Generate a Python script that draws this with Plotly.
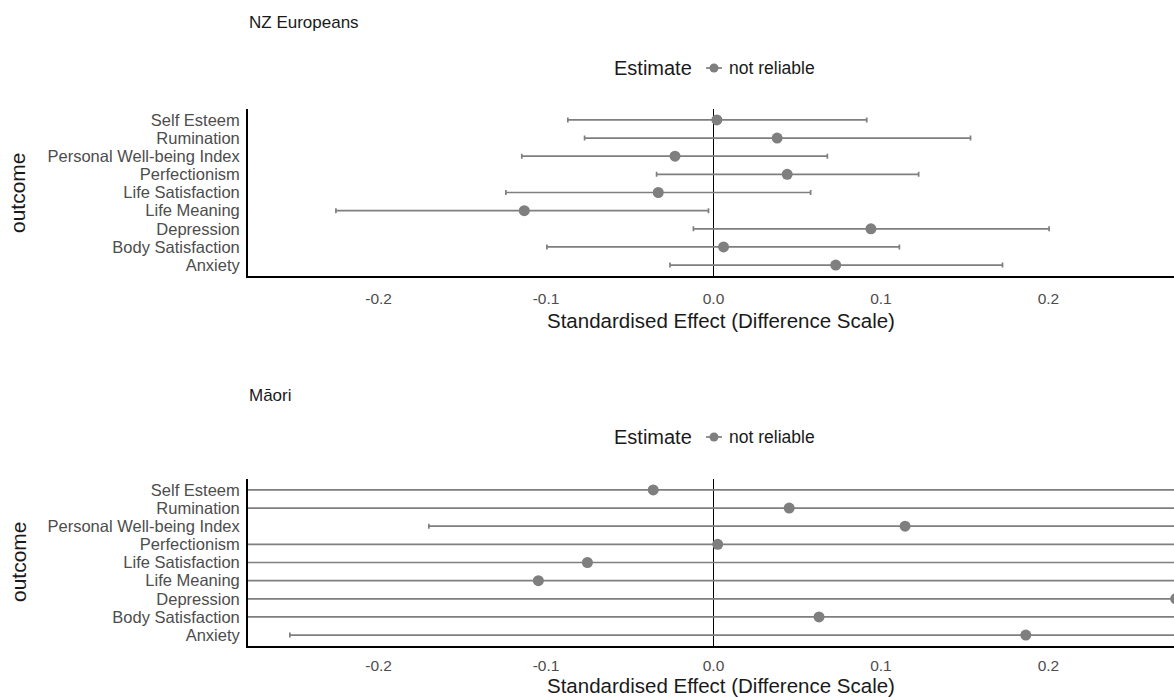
import plotly.graph_objects as go

outcomes = ["Anxiety", "Body Satisfaction", "Depression", "Life Meaning", "Life Satisfaction",
            "Perfectionism", "Personal Well-being Index", "Rumination", "Self Esteem"]

# NZ Europeans
nz_est   = [0.073, 0.006, 0.094, -0.113, -0.033, 0.044, -0.023, 0.038, 0.002]
nz_lower = [-0.026, -0.0995, -0.012, -0.2255, -0.124, -0.034, -0.1145, -0.077, -0.087]
nz_upper = [0.1726, 0.111, 0.2004, -0.003, 0.058, 0.1225, 0.068, 0.1535, 0.0915]

# Māori
mi_est   = [0.1865, 0.063, 0.276, -0.1046, -0.0753, 0.0025, 0.1144, 0.0452, -0.036]
mi_lower = [-0.253, -0.33, -0.36, -0.38, -0.34, -0.32, -0.170, -0.31, -0.35]
mi_upper = [0.45, 0.42, 0.62, 0.30, 0.31, 0.33, 0.41, 0.36, 0.29]

panel_titles = ["NZ Europeans", "Māori"]
x_ticks = [-0.2, -0.1, 0.0, 0.1, 0.2]
x_tick_labels = ["-0.2", "-0.1", "0.0", "0.1", "0.2"]
x_title = "Standardised Effect (Difference Scale)"
y_title = "outcome"
legend_title = "Estimate"
legend_item = "not reliable"

FONT = "Liberation Sans, Arial, Helvetica, sans-serif"
GREY = "#7f7f7f"
W, H = 1174, 697

def px(p):
    return p / W

def py(p):
    return 1 - p / H

fig = go.Figure()
for i, (est, lo, up) in enumerate([(nz_est, nz_lower, nz_upper), (mi_est, mi_lower, mi_upper)]):
    sfx = "" if i == 0 else str(i + 1)
    fig.add_trace(go.Scatter(
        x=est, y=outcomes, mode="markers",
        marker=dict(color=GREY, size=11),
        error_x=dict(type="data", symmetric=False,
                     array=[u - e for u, e in zip(up, est)],
                     arrayminus=[e - l for e, l in zip(est, lo)],
                     color=GREY, thickness=1.7, width=2.5),
        name=legend_item, showlegend=False,
        xaxis="x" + sfx, yaxis="y" + sfx,
    ))

x_left, x_right = 248, 1174
top_dom = [py(276), py(109)]
bot_dom = [py(646), py(479)]

xaxis_common = dict(
    range=[-0.278, 0.275], tickmode="array", tickvals=x_ticks, ticktext=x_tick_labels,
    showgrid=False, zeroline=True, zerolinecolor="black", zerolinewidth=1,
    showline=True, linecolor="black", linewidth=1.8,
    ticks="",
    tickfont=dict(family=FONT, size=15.5, color="#4d4d4d"),
    domain=[px(x_left), px(x_right)], automargin=False,
)
yaxis_common = dict(
    categoryorder="array", categoryarray=outcomes, range=[-0.6, 8.6],
    tickmode="array", tickvals=outcomes, ticktext=outcomes,
    showgrid=False, zeroline=False, showline=True, linecolor="black", linewidth=1.8,
    ticks="", ticklabelstandoff=3,
    tickfont=dict(family=FONT, size=16.5, color="#4d4d4d"), automargin=False,
)

fig.update_layout(
    width=W, height=H,
    margin=dict(l=0, r=0, t=0, b=0),
    paper_bgcolor="white", plot_bgcolor="white",
    font=dict(family=FONT),
    xaxis=dict(**xaxis_common, anchor="y", ticklabelstandoff=7),
    yaxis=dict(**yaxis_common, domain=top_dom, anchor="x"),
    xaxis2=dict(**xaxis_common, anchor="y2", ticklabelstandoff=4),
    yaxis2=dict(**yaxis_common, domain=bot_dom, anchor="x2"),
    showlegend=False,
)

annotations = []
shapes = []
for title, ty, ly, xty, yc in [(panel_titles[0], 22, 68, 320, 193),
                               (panel_titles[1], 395, 437, 685, 562)]:
    annotations.append(dict(text=title, x=px(247), y=py(ty), xref="paper", yref="paper",
                            xanchor="left", yanchor="middle", showarrow=False,
                            font=dict(family=FONT, size=17, color="#1a1a1a")))
    annotations.append(dict(text=legend_title, x=px(694), y=py(ly), xref="paper", yref="paper",
                            xanchor="right", yanchor="middle", showarrow=False,
                            font=dict(family=FONT, size=20, color="#1a1a1a")))
    annotations.append(dict(text=legend_item, x=px(727), y=py(ly), xref="paper", yref="paper",
                            xanchor="left", yanchor="middle", showarrow=False,
                            font=dict(family=FONT, size=17.5, color="#1a1a1a")))
    annotations.append(dict(text=x_title, x=px(721), y=py(xty), xref="paper", yref="paper",
                            xanchor="center", yanchor="middle", showarrow=False,
                            font=dict(family=FONT, size=20.5, color="#1a1a1a")))
    annotations.append(dict(text=y_title, x=px(18), y=py(yc), xref="paper", yref="paper",
                            xanchor="center", yanchor="middle", showarrow=False, textangle=-90,
                            font=dict(family=FONT, size=21, color="#1a1a1a")))
    # legend key: short line with a point
    shapes.append(dict(type="line", xref="paper", yref="paper",
                       x0=px(706), x1=px(722), y0=py(ly), y1=py(ly),
                       line=dict(color=GREY, width=1.7)))
    shapes.append(dict(type="circle", xref="paper", yref="paper",
                       xsizemode="pixel", ysizemode="pixel",
                       xanchor=px(714), yanchor=py(ly), x0=-4.5, x1=4.5, y0=-4.5, y1=4.5,
                       fillcolor=GREY, line=dict(color=GREY, width=0)))
fig.update_layout(annotations=annotations, shapes=shapes)

fig.write_html("out.html",
               config={"displayModeBar": False},
               post_script="document.body.style.margin='0px';document.body.style.overflow='hidden';")
